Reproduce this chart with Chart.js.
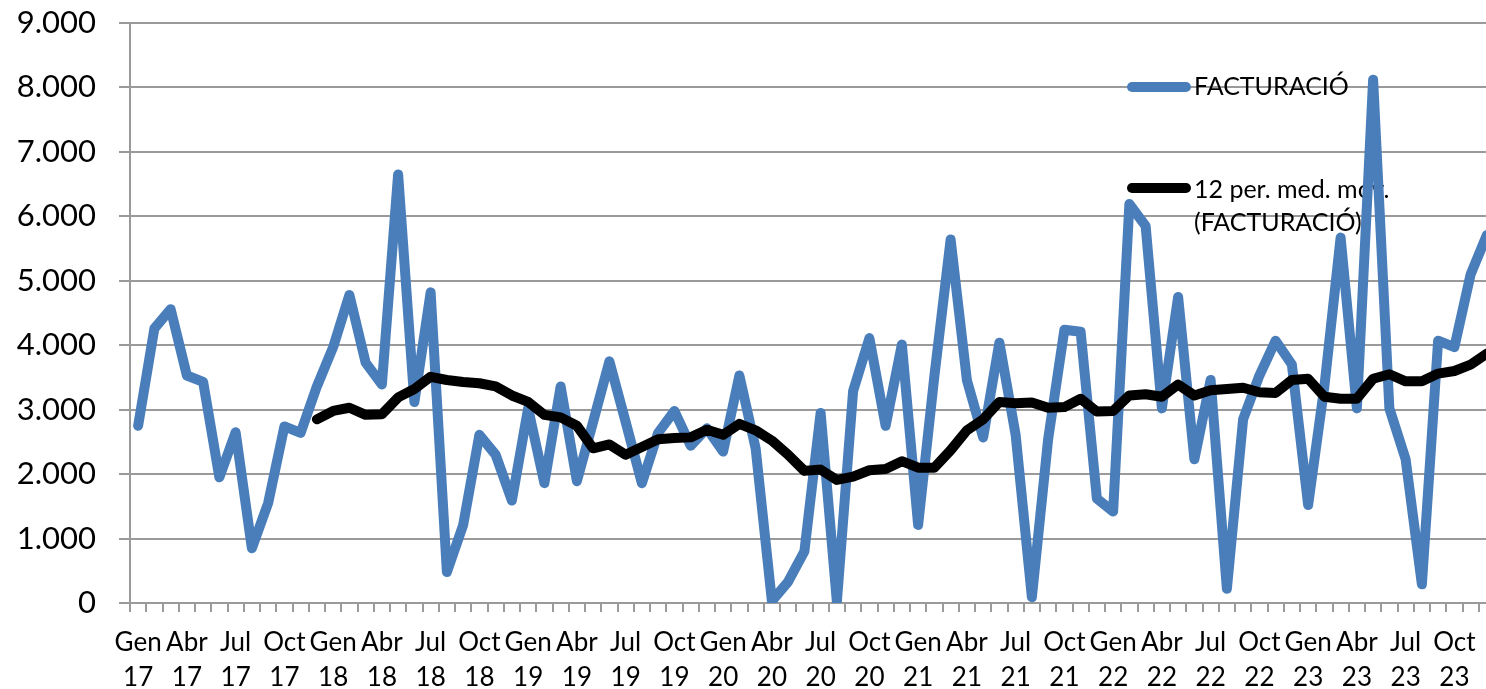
<!DOCTYPE html>
<html>
<head>
<meta charset="utf-8">
<script src="https://cdn.jsdelivr.net/npm/chart.js@4"></script>
<style>
  html, body { margin: 0; padding: 0; background: #fff; overflow: hidden; }
</style>
</head>
<body>
<canvas id="facturacioChart" width="1500" height="689"></canvas>
<script>
// mesos (Gen 17 - Des 23)
var monthNames = ['Gen', 'Feb', 'Mar', 'Abr', 'Mai', 'Jun', 'Jul', 'Ago', 'Set', 'Oct', 'Nov', 'Des'];
var years = ['17', '18', '19', '20', '21', '22', '23'];

var facturacio = [
    2750, 4260, 4560, 3530, 3430, 1950, 2650, 850, 1550, 2740, 2640, 3360,
    3970, 4780, 3730, 3390, 6650, 3120, 4820, 480, 1210, 2610, 2300, 1590,
    3020, 1860, 3360, 1890, 2810, 3750, 2810, 1860, 2640, 2980, 2440, 2710,
    2350, 3530, 2400, 30, 330, 800, 2950, 20, 3290, 4110, 2750, 4010,
    1210, 3520, 5640, 3460, 2570, 4040, 2610, 90, 2540, 4240, 4210, 1620,
    1420, 6190, 5850, 3020, 4750, 2230, 3460, 220, 2850, 3530, 4070, 3700,
    1520, 3360, 5670, 3020, 8120, 3020, 2230, 290, 4070, 3970, 5100, 5710
];

// mitjana mòbil de 12 períodes, llegida del gràfic
var mitjanaMobil = [
    null, null, null, null, null, null, null, null, null, null, null, 2850,
    2980, 3030, 2920, 2930, 3190, 3320, 3510, 3460, 3430, 3410, 3360, 3220,
    3120, 2920, 2880, 2750, 2400, 2460, 2300, 2420, 2540, 2560, 2570, 2690,
    2610, 2780, 2680, 2520, 2300, 2050, 2070, 1910, 1960, 2060, 2080, 2200,
    2100, 2100, 2370, 2680, 2850, 3120, 3100, 3110, 3030, 3040, 3170, 2970,
    2980, 3220, 3240, 3200, 3390, 3220, 3300, 3320, 3340, 3270, 3260, 3460,
    3480, 3200, 3170, 3170, 3480, 3550, 3440, 3440, 3560, 3600, 3700, 3870
];

var yTicks = [0, 1000, 2000, 3000, 4000, 5000, 6000, 7000, 8000, 9000];

var labels = [];
years.forEach(y => monthNames.forEach(m => labels.push(m + ' ' + y)));

var blue = '#4a7ebb';
var gridColor = '#9a9a9a';

function thousands(v) {
    return String(v).replace(/\B(?=(\d{3})+(?!\d))/g, '.');
}

// llegenda dins del gràfic, dibuixada sota les línies
var insideLegend = {
    id: 'insideLegend',
    beforeDatasetsDraw(chart) {
        var ctx = chart.ctx;
        var items = [
            { color: blue, lineY: 87, lines: ['FACTURACIÓ'], baseY: 95 },
            { color: '#000', lineY: 188, lines: ['12 per. med. móv.', '(FACTURACIÓ)'], baseY: 198 }
        ];
        ctx.save();
        items.forEach(it => {
            ctx.strokeStyle = it.color;
            ctx.lineWidth = 10;
            ctx.lineCap = 'round';
            ctx.beginPath();
            ctx.moveTo(1132, it.lineY);
            ctx.lineTo(1186, it.lineY);
            ctx.stroke();
            ctx.fillStyle = '#000';
            ctx.font = '25px Lato';
            ctx.textBaseline = 'alphabetic';
            ctx.textAlign = 'left';
            it.lines.forEach((t, i) => ctx.fillText(t, 1194, it.baseY + i * 33));
        });
        ctx.restore();
    }
};

var ctx = document.getElementById('facturacioChart').getContext('2d');
var chart = new Chart(ctx, {
    type: 'line',
    data: {
        labels: labels,
        datasets: [{
            label: 'FACTURACIÓ',
            data: facturacio,
            borderColor: blue,
            borderWidth: 10,
            borderJoinStyle: 'round',
            borderCapStyle: 'round',
            pointRadius: 0,
            tension: 0,
            order: 2
        }, {
            label: '12 per. med. móv. (FACTURACIÓ)',
            data: mitjanaMobil,
            borderColor: '#000',
            borderWidth: 10,
            borderJoinStyle: 'round',
            borderCapStyle: 'round',
            pointRadius: 0,
            tension: 0,
            order: 1
        }]
    },
    options: {
        responsive: false,
        animation: false,
        layout: { padding: { top: 23, right: 5, bottom: 0, left: 0 } },
        plugins: {
            legend: { display: false },
            tooltip: { enabled: false }
        },
        scales: {
            x: {
                offset: true,
                grid: {
                    offset: true,
                    drawOnChartArea: false,
                    drawTicks: true,
                    tickLength: 9,
                    color: gridColor,
                    lineWidth: 2
                },
                border: { color: gridColor, width: 2 },
                ticks: {
                    autoSkip: false,
                    maxRotation: 0,
                    color: '#000',
                    padding: 13,
                    font: { family: 'Lato', size: 26, lineHeight: 1.346 },
                    callback: function (v, i) {
                        return i % 3 === 0 ? [monthNames[i % 12], years[Math.floor(i / 12)]] : '';
                    }
                },
                afterFit: function (scale) {
                    scale.height = 86;
                    scale.paddingLeft = 0;
                    scale.paddingRight = 0;
                }
            },
            y: {
                min: 0,
                max: 9000,
                afterBuildTicks: function (scale) {
                    scale.ticks = yTicks.map(v => ({ value: v }));
                },
                grid: {
                    color: gridColor,
                    lineWidth: 2,
                    tickLength: 11
                },
                border: { color: gridColor, width: 2 },
                ticks: {
                    color: '#000',
                    padding: 23,
                    font: { family: 'Lato', size: 31 },
                    callback: function (v) { return thousands(v); }
                },
                afterFit: function (scale) {
                    scale.width = 130;
                    scale.paddingTop = 0;
                    scale.paddingBottom = 0;
                }
            }
        }
    },
    plugins: [insideLegend]
});
</script>
</body>
</html>
